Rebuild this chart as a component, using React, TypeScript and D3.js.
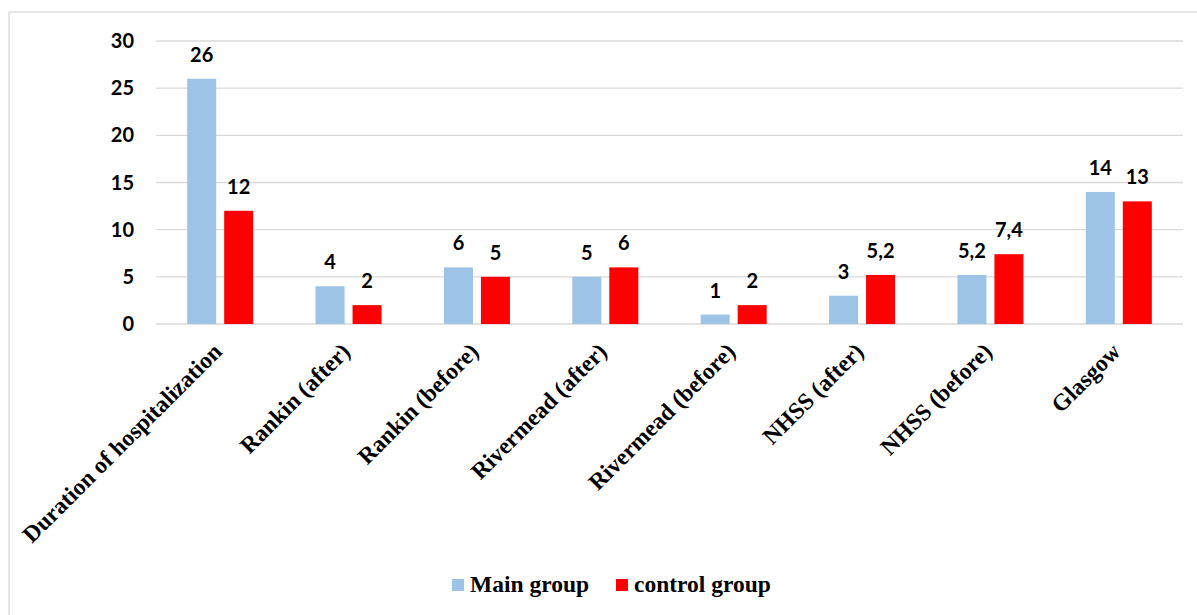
import React from "react";
import * as d3 from "d3";

const categories = [
  "Duration of hospitalization",
  "Rankin (after)",
  "Rankin (before)",
  "Rivermead (after)",
  "Rivermead (before)",
  "NHSS (after)",
  "NHSS (before)",
  "Glasgow",
];
const mainGroup = [26, 4, 6, 5, 1, 3, 5.2, 14];
const controlGroup = [12, 2, 5, 6, 2, 5.2, 7.4, 13];
const seriesNames = ["Main group", "control group"];
const seriesColors = ["#9DC3E6", "#FF0000"];
const yTicks = [0, 5, 10, 15, 20, 25, 30];

const W = 1197;
const H = 615;
const plot = { left: 156, right: 1183, top: 41, bottom: 324 };

const fmt = (v: number) => String(v).replace(".", ",");

export default function App() {
  const x0 = d3.scaleBand<string>().domain(categories).range([plot.left, plot.right]).padding(0);
  const x1 = d3
    .scaleBand<string>()
    .domain(seriesNames)
    .range([0, x0.bandwidth()])
    .paddingInner(0.216)
    .paddingOuter(0.843);
  const y = d3.scaleLinear().domain([0, 30]).range([plot.bottom, plot.top]);
  const series = [mainGroup, controlGroup];
  const numFont = "Lato, 'Open Sans', sans-serif";
  const serif = "'Liberation Serif', 'Times New Roman', serif";

  return (
    <svg
      width={W}
      height={H}
      style={{ position: "absolute", left: 0, top: 0, background: "#fff" }}
    >
      <rect x={9} y={12} width={1200} height={620} fill="#fff" stroke="#d9d9d9" strokeWidth={1.3} />
      {yTicks.map((t) => (
        <g key={t}>
          <line x1={plot.left} x2={plot.right} y1={y(t)} y2={y(t)} stroke="#d9d9d9" strokeWidth={1.3} />
          <text
            x={134}
            y={y(t)}
            dy="0.35em"
            textAnchor="end"
            fontFamily={numFont}
            fontWeight="bold"
            fontSize={20}
            fill="#000"
          >
            {t}
          </text>
        </g>
      ))}
      {categories.map((c, i) => (
        <g key={c} transform={`translate(${x0(c)},0)`}>
          {series.map((s, j) => {
            const bx = x1(seriesNames[j])!;
            const v = s[i];
            return (
              <g key={j}>
                <rect
                  x={bx}
                  y={y(v)}
                  width={x1.bandwidth()}
                  height={y(0) - y(v)}
                  fill={seriesColors[j]}
                />
                <text
                  x={bx + x1.bandwidth() / 2}
                  y={y(v) - 17}
                  textAnchor="middle"
                  fontFamily={numFont}
                  fontWeight="bold"
                  fontSize={20}
                  fill="#000"
                >
                  {fmt(v)}
                </text>
              </g>
            );
          })}
        </g>
      ))}
      {categories.map((c) => {
        const cx = x0(c)! + x0.bandwidth() / 2 + 3;
        const cy = plot.bottom + 29;
        return (
          <text
            key={c}
            transform={`translate(${cx},${cy}) rotate(-45)`}
            textAnchor="end"
            fontFamily={serif}
            fontWeight="bold"
            fontSize={23.5}
            fill="#000"
          >
            {c}
          </text>
        );
      })}
      <g>
        <rect x={452} y={579} width={12} height={12} fill={seriesColors[0]} />
        <text x={470} y={592} fontFamily={serif} fontWeight="bold" fontSize={23.5} fill="#000">
          {seriesNames[0]}
        </text>
        <rect x={616} y={579} width={12} height={12} fill={seriesColors[1]} />
        <text x={634} y={592} fontFamily={serif} fontWeight="bold" fontSize={23.5} fill="#000">
          {seriesNames[1]}
        </text>
      </g>
    </svg>
  );
}
